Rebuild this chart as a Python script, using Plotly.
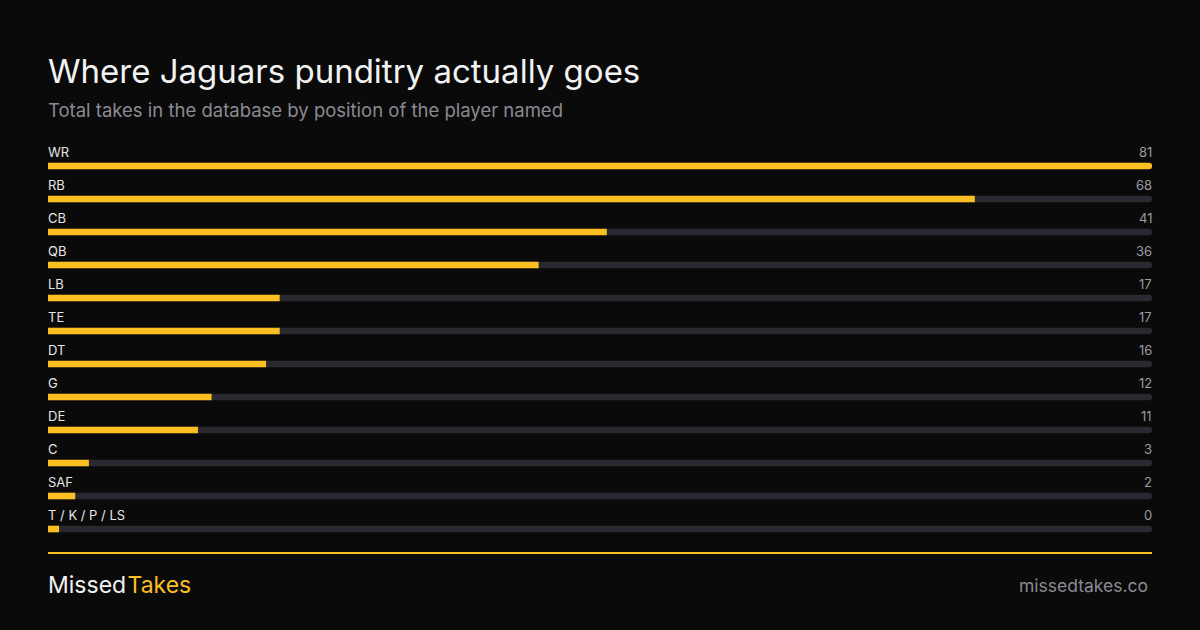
import plotly.graph_objects as go

positions = ["WR", "RB", "CB", "QB", "LB", "TE", "DT", "G", "DE", "C", "SAF", "T / K / P / LS"]
takes = [81, 68, 41, 36, 17, 17, 16, 12, 11, 3, 2, 0]

BG = "#0a0a0a"
TRACK = "#2a2930"
FILL = "#fbbf24"
FONT = "Inter"

max_v = max(takes)
idx = list(range(len(positions)))
# tiny visible stub for zero values
shown = [max(v, max_v * 0.01) for v in takes]

fig = go.Figure()
fig.add_trace(go.Bar(
    x=[max_v] * len(positions), y=idx, orientation="h",
    marker=dict(color=TRACK, cornerradius=3, line=dict(width=0)),
    width=0.2, hoverinfo="skip", showlegend=False,
))
fig.add_trace(go.Bar(
    x=shown, y=idx, orientation="h",
    marker=dict(color=FILL, cornerradius=3, line=dict(width=0)),
    width=0.2, hoverinfo="skip", showlegend=False,
))

annotations = []
for i, (p, v) in enumerate(zip(positions, takes)):
    annotations.append(dict(
        x=0, xref="paper", y=i, yref="y", yshift=14, xshift=-2, text=p, showarrow=False,
        xanchor="left", yanchor="middle", font=dict(family=FONT, size=13, color="#e6e6e6"),
    ))
    annotations.append(dict(
        x=1, xref="paper", y=i, yref="y", yshift=14, xshift=2, text=str(v), showarrow=False,
        xanchor="right", yanchor="middle", font=dict(family=FONT, size=13, color="#9a9aa2"),
    ))

def px_x(x):
    return (x - 48) / 1104

def px_y(y):
    return 1 - (y - 140) / 405

annotations += [
    dict(x=px_x(48), y=px_y(71), xref="paper", yref="paper", xshift=-2, text="Where Jaguars punditry actually goes",
         showarrow=False, xanchor="left", yanchor="middle", font=dict(family=FONT, size=33, color="#f2f2f2")),
    dict(x=px_x(48), y=px_y(110), xref="paper", yref="paper", xshift=-2, text="Total takes in the database by position of the player named",
         showarrow=False, xanchor="left", yanchor="middle", font=dict(family=FONT, size=18.5, color="#8a8a93")),
    dict(x=px_x(48), y=px_y(585), xref="paper", yref="paper", xshift=-2,
         text="Missed<span style='font-size:5px'> </span><span style='color:%s'>Takes</span>" % FILL,
         showarrow=False, xanchor="left", yanchor="middle", font=dict(family=FONT, size=23, color="#f2f2f2")),
    dict(x=px_x(1148), y=px_y(585), xref="paper", yref="paper", xshift=2, text="missedtakes.co",
         showarrow=False, xanchor="right", yanchor="middle", font=dict(family=FONT, size=17.5, color="#8a8a93")),
]

fig.update_layout(
    width=1200, height=630,
    paper_bgcolor=BG, plot_bgcolor=BG,
    margin=dict(l=48, r=48, t=140, b=85),
    barmode="overlay",
    xaxis=dict(range=[0, max_v], visible=False, fixedrange=True),
    yaxis=dict(range=[11 + 16 / 33, -26 / 33], visible=False, fixedrange=True),
    annotations=annotations,
    shapes=[dict(type="line", xref="paper", yref="paper", x0=0, x1=1,
                 y0=px_y(553), y1=px_y(553), line=dict(color=FILL, width=2))],
    showlegend=False,
)

fig.write_html("out.html", config={"displayModeBar": False},
               post_script="document.body.style.margin='0';document.body.style.background='%s';" % BG)
